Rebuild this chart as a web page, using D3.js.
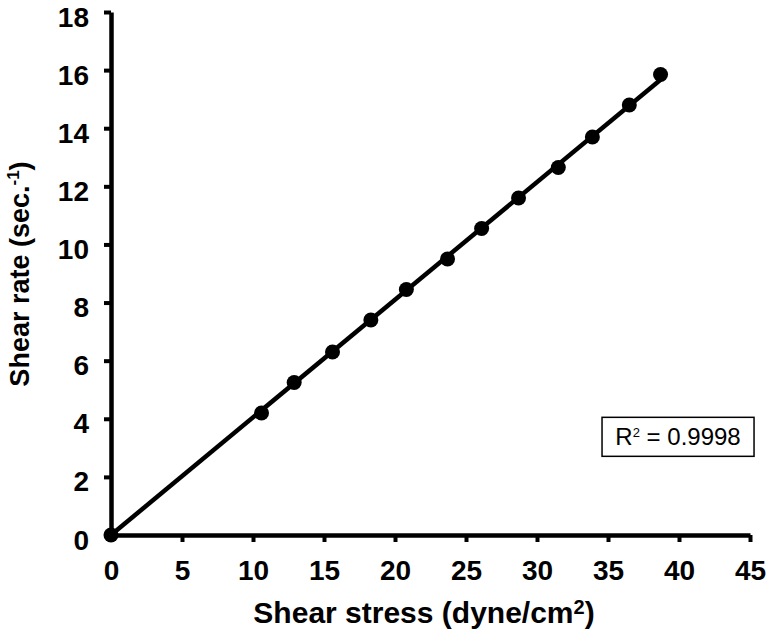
<!DOCTYPE html>
<html>
<head>
<meta charset="utf-8">
<script src="https://cdn.jsdelivr.net/npm/d3@7"></script>
<style>
  body { margin: 0; background: #fff; }
  svg { display: block; }
</style>
</head>
<body>
<div id="vis"></div>
<script>
// Frame and plot area
const FRAME_WIDTH = 767;
const FRAME_HEIGHT = 629;
const MARGINS = {left: 111, right: 17, top: 12, bottom: 94};
const VIS_WIDTH = FRAME_WIDTH - MARGINS.left - MARGINS.right;
const VIS_HEIGHT = FRAME_HEIGHT - MARGINS.top - MARGINS.bottom;

// Data
const shearStress = [0, 10.6, 12.9, 15.6, 18.3, 20.8, 23.7, 26.1, 28.7, 31.5, 33.9, 36.5, 38.7];
const shearRate = [0, 4.2, 5.25, 6.3, 7.4, 8.45, 9.5, 10.55, 11.6, 12.65, 13.7, 14.8, 15.85];
const xTicks = [0, 5, 10, 15, 20, 25, 30, 35, 40, 45];
const yTicks = [0, 2, 4, 6, 8, 10, 12, 14, 16, 18];
const rSquared = "0.9998";

const FRAME = d3.select("#vis")
  .append("svg")
    .attr("width", FRAME_WIDTH)
    .attr("height", FRAME_HEIGHT)
    .style("font-family", "'Liberation Sans', Arial, sans-serif");

const X_SCALE = d3.scaleLinear().domain([0, 45]).range([0, VIS_WIDTH]);
const Y_SCALE = d3.scaleLinear().domain([0, 18]).range([VIS_HEIGHT, 0]);

const plot = FRAME.append("g")
  .attr("transform", "translate(" + MARGINS.left + "," + MARGINS.top + ")");

// x axis
const xAxis = plot.append("g")
  .attr("transform", "translate(0," + VIS_HEIGHT + ")")
  .call(d3.axisBottom(X_SCALE).tickValues(xTicks).tickSize(7).tickPadding(18).tickSizeOuter(0));

// y axis
const yAxis = plot.append("g")
  .call(d3.axisLeft(Y_SCALE).tickValues(yTicks).tickSize(7).tickPadding(15).tickSizeOuter(0));

[xAxis, yAxis].forEach((ax) => {
  ax.select(".domain").attr("stroke", "#000").attr("stroke-width", 4.5);
  ax.selectAll(".tick line").attr("stroke", "#000").attr("stroke-width", 4);
  ax.selectAll(".tick text")
    .attr("fill", "#000")
    .style("font-family", "'Liberation Sans', Arial, sans-serif")
    .style("font-size", "28px")
    .style("font-weight", "700");
});
// labels sit a little below their ticks in the original
yAxis.selectAll(".tick text").attr("dy", "0.5em");

// trend line through the origin (least squares)
const pts = shearStress.map((x, i) => ({x: x, y: shearRate[i]}));
const slope = d3.sum(pts, (d) => d.x * d.y) / d3.sum(pts, (d) => d.x * d.x);
const xMax = d3.max(shearStress);
plot.append("line")
  .attr("x1", X_SCALE(0))
  .attr("y1", Y_SCALE(0))
  .attr("x2", X_SCALE(xMax))
  .attr("y2", Y_SCALE(slope * xMax))
  .attr("stroke", "#000")
  .attr("stroke-width", 4.5);

// data points
plot.append("g")
  .selectAll("circle")
  .data(pts)
  .enter()
  .append("circle")
    .attr("cx", (d) => X_SCALE(d.x))
    .attr("cy", (d) => Y_SCALE(d.y))
    .attr("r", 7.5)
    .attr("fill", "#000");

// R squared box
const box = plot.append("g")
  .attr("transform", "translate(" + X_SCALE(34.58) + "," + Y_SCALE(4.05) + ")");
box.append("rect")
  .attr("width", 152)
  .attr("height", 39)
  .attr("fill", "#fff")
  .attr("stroke", "#000")
  .attr("stroke-width", 1.5);
const rText = box.append("text")
  .attr("x", 76)
  .attr("y", 28)
  .attr("text-anchor", "middle")
  .style("font-size", "24px");
rText.append("tspan").text("R");
rText.append("tspan").attr("dy", -8).style("font-size", "13px").text("2");
rText.append("tspan").attr("dy", 8).text(" = " + rSquared);

// x title
const xTitle = FRAME.append("text")
  .attr("x", 424)
  .attr("y", 623)
  .attr("text-anchor", "middle")
  .style("font-size", "30px")
  .style("font-weight", "700");
xTitle.append("tspan").text("Shear stress (dyne/cm");
xTitle.append("tspan").attr("dy", -9).style("font-size", "20px").text("2");
xTitle.append("tspan").attr("dy", 9).text(")");

// y title
const yTitle = FRAME.append("text")
  .attr("transform", "translate(29," + 274 + ") rotate(-90)")
  .attr("text-anchor", "middle")
  .style("font-size", "27px")
  .style("font-weight", "700");
yTitle.append("tspan").text("Shear rate (sec.");
yTitle.append("tspan").attr("dy", -10).style("font-size", "17px").text("-1");
yTitle.append("tspan").attr("dy", 10).text(")");
</script>
</body>
</html>
